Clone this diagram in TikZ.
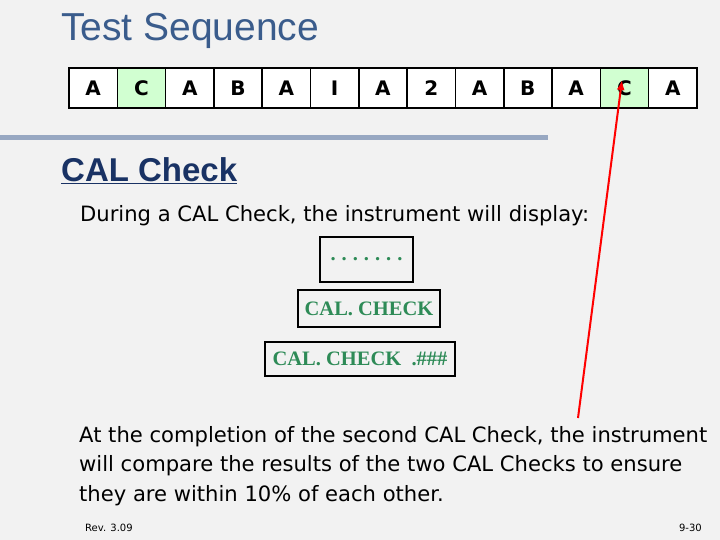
\documentclass[tikz,border=0pt]{standalone}
\usetikzlibrary{arrows.meta}
\usepackage{fontspec}
\setmainfont{DejaVu Sans}
\newfontfamily\ser{Liberation Serif}
\newfontfamily\las{Liberation Sans}
\definecolor{titleblue}{RGB}{58,92,140}
\definecolor{calblue}{RGB}{25,50,100}
\definecolor{bargray}{RGB}{152,168,194}
\definecolor{dispgreen}{RGB}{46,139,87}
\begin{document}
\begin{tikzpicture}[x=1pt,y=-1pt,
  cell/.style={draw,line width=1.6pt,minimum width=48.3pt,minimum height=40pt,inner sep=0pt,font=\fontsize{20}{20}\selectfont\bfseries},
  disp/.style={draw,line width=2.2pt,inner sep=0pt,font=\ser\bfseries\fontsize{20.5}{20.5}\selectfont,text=dispgreen},
  body/.style={anchor=west,font=\fontsize{21.1}{29.5}\selectfont,inner sep=0pt}]
\fill[gray!10] (0,0) rectangle (720,540);
\useasboundingbox (0,0) rectangle (720,540);
\node[anchor=west,inner sep=0pt,text=titleblue,font=\las\fontsize{39}{39}\selectfont] (title) at (61,31) {Test Sequence};
\foreach \t [count=\i] in {A,C,A,B,A,I,A,2,A,B,A,C,A}{
  \pgfmathsetmacro\xx{69+48.3*(\i-0.5)}
  \ifnum\i=2 \def\fc{green!18}\else\ifnum\i=12 \def\fc{green!18}\else\def\fc{white}\fi\fi
  \node[cell,fill=\fc] (c\i) at (\xx,88) {\t};
}
\fill[bargray] (0,135) rectangle (548,140);
\node[anchor=west,inner sep=0pt,text=calblue,font=\las\bfseries\fontsize{33}{33}\selectfont] (cal) at (61,171) {\underline{CAL Check}};
\node[body] (t1) at (80,216) {During a CAL Check, the instrument will display:};
\node[disp,minimum width=93pt,minimum height=45pt] (d1) at (366.5,259.5) {.\hspace{6pt}.\hspace{6pt}.\hspace{6pt}.\hspace{6pt}.\hspace{6pt}.\hspace{6pt}.};
\node[disp,minimum width=142pt,minimum height=37pt] (d2) at (369,308.5) {CAL. CHECK};
\node[disp,minimum width=190pt,minimum height=34pt] (d3) at (360,359) {CAL. CHECK~~.\#\#\#};
\node[body,align=left,anchor=north west] (t2) at (79,426) {At the completion of the second CAL Check, the instrument\\will compare the results of the two CAL Checks to ensure\\they are within 10\% of each other.};
\node[anchor=west,inner sep=0pt,font=\fontsize{10}{10}\selectfont] (rev) at (85,528) {Rev. 3.09};
\node[anchor=east,inner sep=0pt,font=\fontsize{10}{10}\selectfont] (pg) at (702,528) {9-30};
\coordinate (as) at (578,418);
\coordinate (ae) at (622,80);
\draw[red,line width=2pt,-{Latex[length=10pt,width=8pt]}] (as) -- (ae);
\end{tikzpicture}
\end{document}
